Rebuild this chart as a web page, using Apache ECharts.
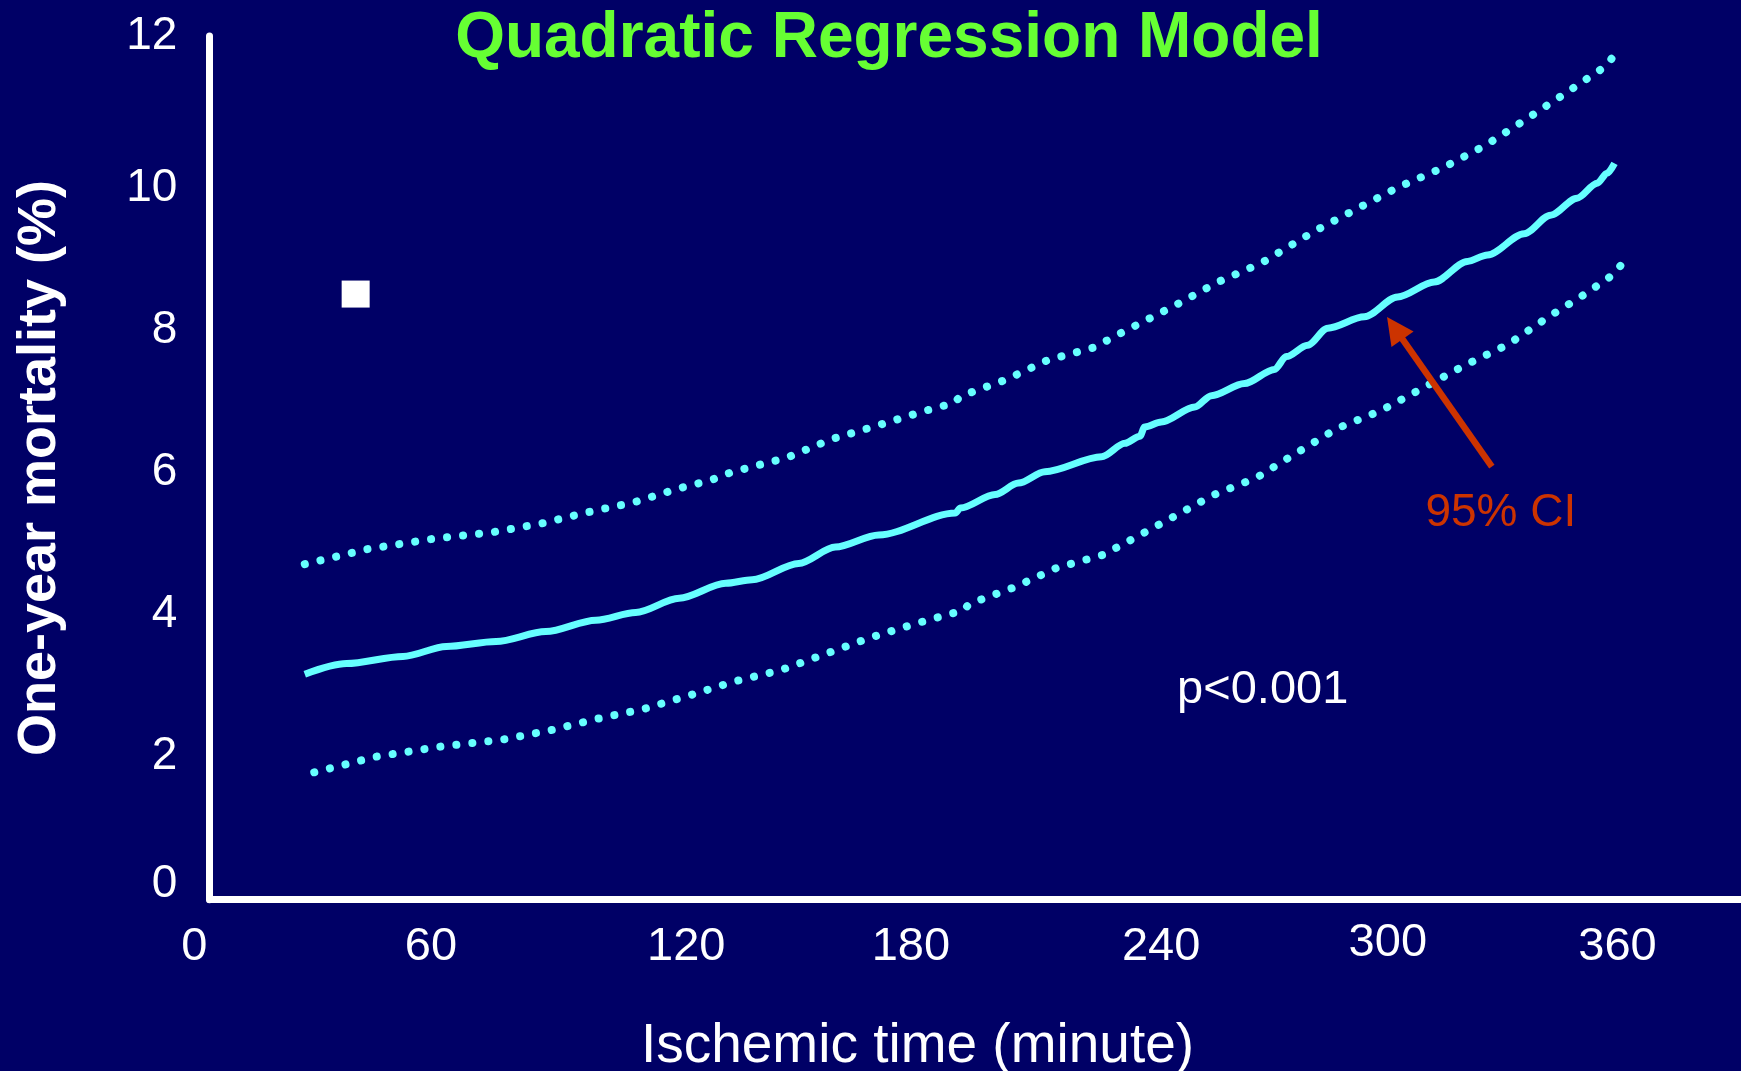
<!DOCTYPE html>
<html>
<head>
<meta charset="utf-8">
<title>Quadratic Regression Model</title>
<script src="https://cdn.jsdelivr.net/npm/echarts@6/dist/echarts.min.js"></script>
<style>
  html, body { margin: 0; padding: 0; background: #000066; }
  #chart { width: 1741px; height: 1071px; }
</style>
</head>
<body>
<div id="chart"></div>
<script>
// Ischemic time (minutes) vs one-year mortality (%): fitted curve and 95% CI bounds
const fitCurve = [
  [28, 3.09], [38.6, 3.24], [52.9, 3.34], [63.9, 3.48], [76.5, 3.55], [89.1, 3.69],
  [101.8, 3.85], [111.9, 3.96], [122.9, 4.16], [134.7, 4.37], [141.4, 4.42], [153.2, 4.65],
  [162.5, 4.88], [173.5, 5.05], [192.9, 5.36], [194.2, 5.43], [203, 5.62], [208.9, 5.78],
  [215.6, 5.94], [230, 6.15], [235.9, 6.34], [239.7, 6.44], [240.9, 6.57], [245.1, 6.64],
  [253.6, 6.85], [257.8, 7.01], [266.2, 7.18], [273.8, 7.38], [276.8, 7.56], [282.2, 7.72],
  [287.3, 7.96], [296.6, 8.12], [305, 8.40], [314.3, 8.61], [322.7, 8.90], [327.8, 8.99],
  [337.1, 9.29], [343.8, 9.55], [350.5, 9.79], [355.6, 10.0], [358.1, 10.14], [360, 10.28]
];
const upperCI = [
  [28, 4.64], [43.8, 4.85], [59.8, 4.99], [75.8, 5.09], [87.9, 5.21], [99.7, 5.37],
  [111.5, 5.51], [123.1, 5.71], [130.9, 5.82], [136, 5.93], [150.3, 6.14], [161.6, 6.40],
  [173.2, 6.59], [184.8, 6.79], [192.7, 6.91], [194.1, 7.00], [205.5, 7.23], [216.3, 7.51],
  [228.1, 7.69], [235.2, 7.90], [248.6, 8.28], [259.5, 8.61], [270.6, 8.88], [277.2, 9.10],
  [284.1, 9.33], [294.7, 9.64], [305.4, 9.95], [316.6, 10.22], [327.2, 10.53], [337.3, 10.89],
  [347.4, 11.26], [357.6, 11.64], [360.1, 11.81]
];
const lowerCI = [
  [30.4, 1.71], [46.1, 1.93], [62.2, 2.07], [78.2, 2.17], [90.2, 2.30], [101.9, 2.46],
  [113.8, 2.60], [125.4, 2.79], [137, 2.99], [148.8, 3.15], [160.2, 3.38], [171.6, 3.61],
  [183.3, 3.81], [195, 3.99], [196.4, 4.08], [207.7, 4.31], [218.7, 4.59], [230.4, 4.77],
  [237.4, 4.98], [247.7, 5.29], [258.2, 5.61], [269.4, 5.86], [278.7, 6.18], [289.7, 6.55],
  [300.8, 6.80], [311.5, 7.12], [322.1, 7.44], [333, 7.73], [343, 8.11], [353.1, 8.46],
  [359.8, 8.72], [362.4, 8.90]
];
const timeTicks = [0, 60, 120, 180, 240, 300, 360];
const mortalityTicks = [0, 2, 4, 6, 8, 10, 12];
const legendSquare = [[40.9, 8.44]];
// arrow pointing from the "95% CI" note toward the fitted curve: [tail, head]
const ciArrow = [[328.9, 6.01], [304.3, 7.96]];

const FONT = '"Liberation Sans", Arial, Helvetica, sans-serif';
const CYAN = '#66FFFF';
const WHITE = '#FFFFFF';
const NOTE_RED = '#CC3300';

// small per-label nudges of the tick labels (hand-placed on the slide)
const xLabelPad = { 0: [4, 0, 0, 0], 60: [4, 0, 0, 0], 120: [4, 0, 0, 37], 180: [4, 0, 0, 13],
                    240: [4, 0, 0, 40], 300: [0, 0, 0, 20], 360: [4, 0, 0, 6] };
const yLabelPad = { 0: [0, 0, 19, 0], 2: [10, 0, 0, 0], 4: [10, 0, 0, 0], 6: [10, 0, 0, 0],
                    8: [10, 0, 0, 0], 10: [10, 0, 0, 0], 12: [0, 0, 10, 0] };

const xRich = {};
timeTicks.forEach(v => {
  xRich['t' + v] = { fontSize: 47, fontFamily: FONT, color: WHITE, padding: xLabelPad[v] };
});
const yRich = {};
mortalityTicks.forEach(v => {
  yRich['m' + v] = { fontSize: 46, fontFamily: FONT, color: WHITE, padding: yLabelPad[v] };
});

const chart = echarts.init(document.getElementById('chart'), null, { renderer: 'canvas' });

chart.setOption({
  backgroundColor: '#000066',
  animation: false,
  grid: [
    // plotting area (value scales)
    { left: 194.3, right: 0, top: 41.1, bottom: 177.2, containLabel: false },
    // frame lines of the plot
    { left: 209.7, right: 0, top: 36, bottom: 171.3, containLabel: false }
  ],
  xAxis: [
    {
      type: 'value', gridIndex: 0, min: 0, max: 391.3, interval: 60,
      axisLine: { show: false }, axisTick: { show: false }, splitLine: { show: false },
      axisLabel: {
        show: true, margin: 26,
        formatter: v => timeTicks.includes(v) ? '{t' + v + '|' + v + '}' : '',
        rich: xRich
      }
    },
    {
      type: 'value', gridIndex: 1, min: 0, max: 1,
      axisLine: { show: true, lineStyle: { color: WHITE, width: 7 } },
      axisTick: { show: false }, axisLabel: { show: false }, splitLine: { show: false }
    }
  ],
  yAxis: [
    {
      type: 'value', gridIndex: 0, min: 0, max: 12, interval: 2,
      axisLine: { show: false }, axisTick: { show: false }, splitLine: { show: false },
      axisLabel: {
        show: true, margin: 17,
        formatter: v => mortalityTicks.includes(v) ? '{m' + v + '|' + v + '}' : '',
        rich: yRich
      }
    },
    {
      type: 'value', gridIndex: 1, min: 0, max: 1,
      axisLine: { show: true, lineStyle: { color: WHITE, width: 7 } },
      axisTick: { show: false }, axisLabel: { show: false }, splitLine: { show: false }
    }
  ],
  series: [
    {
      name: 'Upper 95% CI', type: 'line', xAxisIndex: 0, yAxisIndex: 0,
      data: upperCI, showSymbol: false, silent: true,
      lineStyle: { color: CYAN, width: 8, type: [0.1, 16], cap: 'round' }
    },
    {
      name: 'Lower 95% CI', type: 'line', xAxisIndex: 0, yAxisIndex: 0,
      data: lowerCI, showSymbol: false, silent: true,
      lineStyle: { color: CYAN, width: 8, type: [0.1, 16], cap: 'round' }
    },
    {
      name: 'Quadratic fit', type: 'line', xAxisIndex: 0, yAxisIndex: 0,
      data: fitCurve, showSymbol: false, silent: true,
      smooth: 0.3, smoothMonotone: 'x',
      lineStyle: { color: CYAN, width: 7, join: 'round' },
      markLine: {
        silent: true,
        symbol: ['none', 'triangle'],
        symbolSize: 27,
        label: { show: false },
        lineStyle: { color: NOTE_RED, width: 6.5, type: 'solid', opacity: 1 },
        itemStyle: { color: NOTE_RED },
        emphasis: { disabled: true },
        data: [[{ coord: ciArrow[0] }, { coord: ciArrow[1] }]]
      }
    },
    {
      name: 'marker', type: 'scatter', xAxisIndex: 0, yAxisIndex: 0,
      data: legendSquare, symbol: 'rect', symbolSize: [28, 27], silent: true,
      itemStyle: { color: WHITE, opacity: 1 }
    }
  ],
  graphic: [
    {
      type: 'text', x: 889, y: 39.5, silent: true,
      style: { text: 'Quadratic Regression Model', font: 'bold 64px ' + FONT, fill: '#66FF33',
               align: 'center', verticalAlign: 'middle', textAlign: 'center', textVerticalAlign: 'middle' }
    },
    {
      type: 'text', x: 40, y: 468, rotation: Math.PI / 2, silent: true,
      style: { text: 'One-year mortality (%)', font: 'bold 54px ' + FONT, fill: WHITE,
               align: 'center', verticalAlign: 'middle', textAlign: 'center', textVerticalAlign: 'middle' }
    },
    {
      type: 'text', x: 917.5, y: 1046.5, silent: true,
      style: { text: 'Ischemic time (minute)', font: '55px ' + FONT, fill: WHITE,
               align: 'center', verticalAlign: 'middle', textAlign: 'center', textVerticalAlign: 'middle' }
    },
    {
      type: 'text', x: 1262.7, y: 690.5, silent: true,
      style: { text: 'p<0.001', font: '47px ' + FONT, fill: WHITE,
               align: 'center', verticalAlign: 'middle', textAlign: 'center', textVerticalAlign: 'middle' }
    },
    {
      type: 'text', x: 1500.8, y: 513, silent: true,
      style: { text: '95% CI', font: '46px ' + FONT, fill: NOTE_RED,
               align: 'center', verticalAlign: 'middle', textAlign: 'center', textVerticalAlign: 'middle' }
    }
  ]
});
</script>
</body>
</html>
